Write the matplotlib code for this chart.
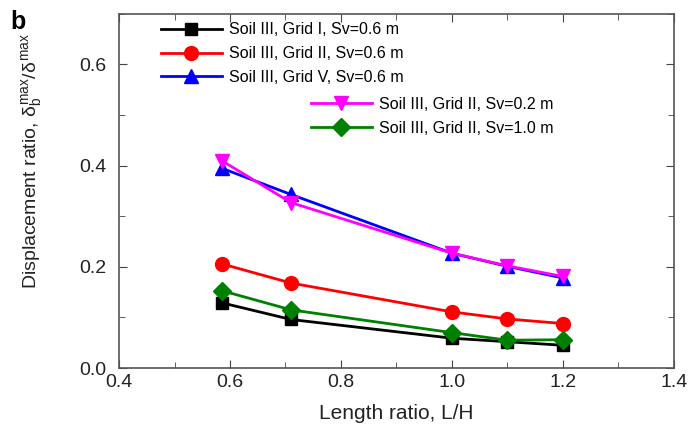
import matplotlib
matplotlib.use('Agg')
import matplotlib.pyplot as plt
from matplotlib.ticker import MultipleLocator

plt.rcParams['font.family'] = ['Liberation Sans', 'DejaVu Sans']
plt.rcParams['mathtext.fontset'] = 'custom'
plt.rcParams['mathtext.rm'] = 'Liberation Sans'
plt.rcParams['mathtext.it'] = 'Liberation Sans'

# length ratio L/H
L_H = [0.585, 0.71, 1.0, 1.1, 1.2]

grid1_sv06 = [0.129, 0.096, 0.059, 0.052, 0.045]
grid2_sv06 = [0.206, 0.168, 0.111, 0.097, 0.088]
grid5_sv06 = [0.395, 0.343, 0.227, 0.201, 0.178]
grid2_sv02 = [0.410, 0.327, 0.227, 0.202, 0.181]
grid2_sv10 = [0.153, 0.115, 0.070, 0.055, 0.056]

labels = ['Soil III, Grid I, Sv=0.6 m',
          'Soil III, Grid II, Sv=0.6 m',
          'Soil III, Grid V, Sv=0.6 m',
          'Soil III, Grid II, Sv=0.2 m',
          'Soil III, Grid II, Sv=1.0 m']

xticks = [0.4, 0.6, 0.8, 1.0, 1.2, 1.4]
yticks = [0.0, 0.2, 0.4, 0.6]

fig = plt.figure(figsize=(6.9, 4.33), dpi=100)
ax = fig.add_axes([0.1725, 0.150, 0.804, 0.818])

lw = 2
ms = 10
h1, = ax.plot(L_H, grid1_sv06, color='black', marker='s', lw=lw, ms=ms - 1)
h2, = ax.plot(L_H, grid2_sv06, color='red', marker='o', lw=lw, ms=ms)
h3, = ax.plot(L_H, grid5_sv06, color='blue', marker='^', lw=lw, ms=ms)
h4, = ax.plot(L_H, grid2_sv02, color='magenta', marker='v', lw=lw, ms=ms)
h5, = ax.plot(L_H, grid2_sv10, color='green', marker='D', lw=lw, ms=ms - 1)

ax.set_xlim(0.4, 1.4)
ax.set_ylim(0.0, 0.7)
ax.xaxis.set_minor_locator(MultipleLocator(0.1))
ax.yaxis.set_minor_locator(MultipleLocator(0.1))
ax.set_xticks(xticks)
ax.set_xticklabels(['%.1f' % v for v in xticks])
ax.set_yticks(yticks)
ax.set_yticklabels(['%.1f' % v for v in yticks])
ax.tick_params(which='both', direction='in', top=True, right=True,
               labelsize=14, color='#444444', labelcolor='#222222')
ax.tick_params(which='major', length=6)
ax.tick_params(which='minor', length=4)
ax.tick_params(axis='y', pad=9)
ax.tick_params(axis='x', pad=4)
for s in ax.spines.values():
    s.set_color('#555555')
    s.set_linewidth(1.2)

ax.set_xlabel('Length ratio, L/H', fontsize=15, labelpad=10, color='#222222')
ax.set_ylabel(r'Displacement ratio, $\delta_b^{max}/\delta^{max}$',
              fontsize=14, color='#222222')
ax.yaxis.set_label_coords(-0.135, 0.585)

leg_kw = dict(frameon=False, fontsize=11.5, handlelength=3.8,
              handletextpad=0.45, labelspacing=0.55, borderpad=0.2,
              borderaxespad=0, loc='upper left')
leg1 = ax.legend([h1, h2, h3], labels[:3], bbox_to_anchor=(0.07, 0.985),
                 **leg_kw)
ax.add_artist(leg1)
ax.legend([h4, h5], labels[3:], bbox_to_anchor=(0.34, 0.775), **leg_kw)

fig.text(0.015, 0.932, 'b', fontsize=18, fontweight='bold')

fig.savefig('out.png', dpi=100)
